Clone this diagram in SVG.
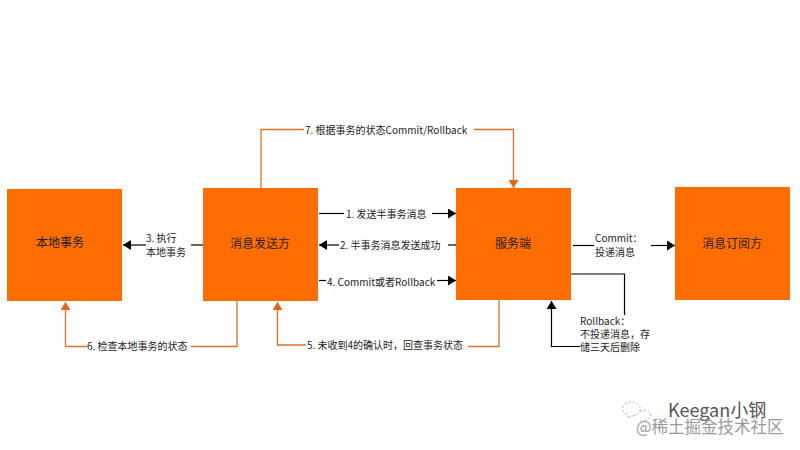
<svg xmlns="http://www.w3.org/2000/svg" width="800" height="450" viewBox="0 0 800 450">
<style>
text{font-family:"Noto Sans CJK SC","Liberation Sans",sans-serif;fill:#222}
.n{fill:#ff6d00}
.t{font-size:12px;text-anchor:middle}
.l{font-size:10px}
.b{fill:none;stroke:#000;stroke-width:1.2}
.o{fill:none;stroke:#d9732b;stroke-width:1.3}
</style>
<defs>
<marker id="ab" markerUnits="userSpaceOnUse" markerWidth="9" markerHeight="10" refX="8" refY="5" orient="auto"><path d="M0 0L8 5L0 10Z" fill="#000"/></marker>
<marker id="ao" markerUnits="userSpaceOnUse" markerWidth="9" markerHeight="10" refX="8" refY="5" orient="auto"><path d="M0 0L8 5L0 10Z" fill="#e8641b"/></marker>
</defs>
<rect width="800" height="450" fill="#fff"/>
<g id="connectors">
<path class="o" d="M261 188V129.500H304"/>
<path class="o" marker-end="url(#ao)" d="M474 129.500H513.500V188"/>
<path class="b" d="M319 213.500H344"/>
<path class="b" marker-end="url(#ab)" d="M432 213.500H456"/>
<path class="b" d="M448 245H456"/>
<path class="b" marker-end="url(#ab)" d="M339 245H319"/>
<path class="b" d="M319 280.500H326"/>
<path class="b" marker-end="url(#ab)" d="M437 280.500H456"/>
<path class="b" d="M203 245H191"/>
<path class="b" marker-end="url(#ab)" d="M146 245H123"/>
<path class="b" d="M573 245.500H594"/>
<path class="b" marker-end="url(#ab)" d="M651 245.500H675"/>
<path class="b" d="M571 274H624.500V315"/>
<path class="b" marker-end="url(#ab)" d="M580 346.500H551.500V301"/>
<path class="o" d="M237 301V346.500H191"/>
<path class="o" marker-end="url(#ao)" d="M87 346.500H65.500V302"/>
<path class="o" d="M499 300V346.500H468"/>
<path class="o" marker-end="url(#ao)" d="M306 345H277.500V302"/>
</g>
<g id="local"><rect class="n" x="7" y="189" width="115" height="112"/><text class="t" x="60" y="247">本地事务</text></g>
<g id="producer"><rect class="n" x="203" y="188" width="115" height="113"/><text class="t" x="260" y="248">消息发送方</text></g>
<g id="server"><rect class="n" x="456" y="188" width="115" height="112"/><text class="t" x="513" y="248">服务端</text></g>
<g id="consumer"><rect class="n" x="675" y="187" width="115" height="113"/><text class="t" x="732" y="248">消息订阅方</text></g>
<g id="labels">
<text class="l" x="305" y="134">7. 根据事务的状态Commit/Rollback</text>
<text class="l" x="346" y="218">1. 发送半事务消息</text>
<text class="l" x="340" y="249">2. 半事务消息发送成功</text>
<text class="l" x="327" y="286">4. Commit或者Rollback</text>
<text class="l" x="146" y="242">3. 执行</text>
<text class="l" x="146" y="256">本地事务</text>
<text class="l" x="595" y="242">Commit：</text>
<text class="l" x="595" y="256">投递消息</text>
<text class="l" x="580" y="325">Rollback：</text>
<text class="l" x="580" y="338">不投递消息，存</text>
<text class="l" x="580" y="351">储三天后删除</text>
<text class="l" x="87" y="350">6. 检查本地事务的状态</text>
<text class="l" x="307" y="349">5. 未收到4的确认时，回查事务状态</text>
</g>
<g id="watermark">
<path d="M625 404a9 7 0 1 1 6 12l-3 2v-3a9 7 0 0 1-3-11M640 412a6 5 0 1 1 3 8v2l-3-2" fill="none" stroke="#aaa" stroke-width="1" stroke-dasharray="2 2"/>
<text x="668" y="417" font-size="18" style="fill:#555">Keegan小钢</text>
<text x="636" y="433" font-size="16.500" style="fill:#9a9a9a">@稀土掘金技术社区</text>
</g>
</svg>
